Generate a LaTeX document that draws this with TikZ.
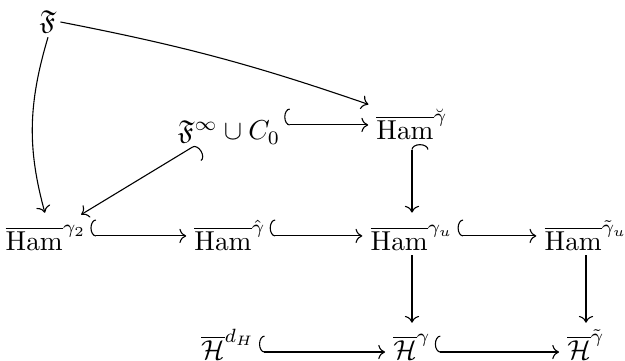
\documentclass[tikz,border=0pt]{standalone}
\usepackage{amsmath,amssymb}
\usetikzlibrary{arrows.meta}
\begin{document}
\begin{tikzpicture}[x=0.365pt,y=-0.365pt,
  obj/.style={inner sep=0pt, outer sep=1.5pt, anchor=base, text height=11pt, text depth=0pt},
  objlow/.style={obj, text height=10.6pt, text depth=4.8pt},
  hk/.style={{Hooks[right,length=2pt,width=12pt]}-{Computer Modern Rightarrow}, shorten >=1.5pt},
  ar/.style={-{Computer Modern Rightarrow}, shorten >=1.5pt}]
\useasboundingbox (0,0) rectangle (625,361);
\node[inner sep=0pt, outer sep=1.5pt] (F) at (48,22) {$\mathfrak{F}$};
\node[obj] (C) at (229,140) {$\mathfrak{F}^\infty \cup C_0$};
\node[obj] (HamB) at (412,140) {$\overline{\mathrm{Ham}}^{\breve{\gamma}}$};
\node[obj] (Ham2) at (46,251) {$\overline{\mathrm{Ham}}^{\gamma_2}$};
\node[obj] (HamHat) at (230,251) {$\overline{\mathrm{Ham}}^{\hat{\gamma}}$};
\node[obj] (HamU) at (412,251) {$\overline{\mathrm{Ham}}^{\gamma_u}$};
\node[obj] (HamTU) at (586,251) {$\overline{\mathrm{Ham}}^{\tilde{\gamma}_u}$};
\node[objlow] (Hd) at (228,360) {$\overline{\mathcal{H}}^{d_H}$};
\node[objlow] (Hg) at (412,360) {$\overline{\mathcal{H}}^{\gamma}$};
\node[objlow] (HtG) at (586,360) {$\overline{\mathcal{H}}^{\tilde{\gamma}}$};
\draw[ar] (F.east) to[bend left=4] (HamB.north west);
\draw[ar] (F.south) to[bend right=16] (Ham2.north);
\draw[hk] (C.east) -- (HamB.west);
\draw[hk] (C) -- (Ham2);
\draw[hk] (HamB.south) -- (HamU.north);
\draw[hk] (Ham2.east) -- (HamHat.west);
\draw[hk] (HamHat.east) -- (HamU.west);
\draw[hk] (HamU.east) -- (HamTU.west);
\draw[ar] (HamU.south) -- (Hg.north);
\draw[ar] (HamTU.south) -- (HtG.north);
\draw[hk] (Hd.east) -- (Hg.west);
\draw[hk] (Hg.east) -- (HtG.west);
\end{tikzpicture}
\end{document}
